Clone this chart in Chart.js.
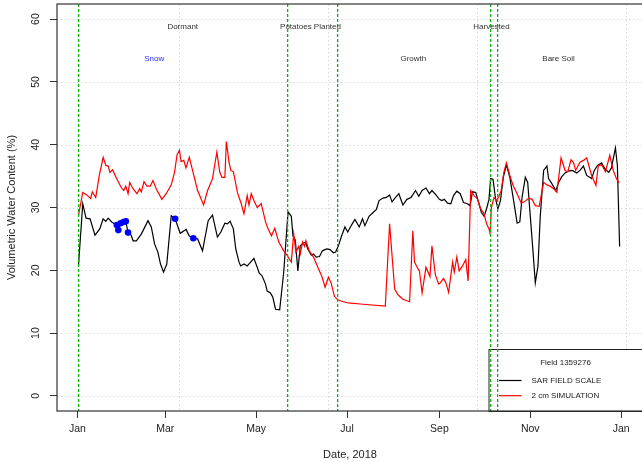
<!DOCTYPE html>
<html lang="en">
<head>
<meta charset="UTF-8">
<title>Field 1359276 - Volumetric Water Content</title>
<script src="https://cdn.jsdelivr.net/npm/chart.js@4"></script>
<style>
    body { margin: 0; background: #fff; overflow: hidden; }
    .wrap { width: 647px; height: 462px; }
</style>
</head>
<body>
<div class="wrap"><canvas id="vwcChart" width="647" height="462"></canvas></div>
<script>
// day of year 2018 (0 = Jan 1)
const sarDays = [0.7, 3.6, 5.8, 8.5, 11.8, 15, 17.3, 19, 20.7, 23, 25, 26.5, 27.5, 29, 31, 32.5, 34, 36, 37.4, 39.6,
    43, 47.4, 49.6, 51.8, 54, 55.8, 57.8, 60, 63, 65.6, 69, 73, 75, 77.8, 80.7, 84, 87.8, 90.7, 94, 96.3,
    99, 100.7, 102.5, 104.7, 106.3, 108.5, 109.6, 111.8, 114, 116.3, 118.5, 120.7, 122, 124, 126.3, 127.4, 129.6, 131.2, 133, 135.8,
    138.5, 141.4, 143.6, 144.7, 146.3, 148, 149.6, 151, 153, 154.7, 157, 158.5, 160.3, 162.5, 164.5, 167.4, 169.6, 171.8, 173.4, 175.2,
    177.4, 179.6, 181.5, 184, 186.3, 189.2, 191.4, 193, 195.8, 198.5, 200.7, 202.5, 205.2, 207.4, 209.6, 211.2, 213.6, 215.8, 218.5, 221.2,
    224, 227, 229.2, 231.4, 234, 236.3, 238, 240.7, 243, 244.7, 246.3, 248.5, 250.7, 252.5, 254.7, 257, 259.2, 261.8, 263.6, 265.2,
    267.4, 269, 271.2, 273, 274.7, 276.3, 277.4, 279, 280.7, 282.3, 284, 285.9, 288, 290.3, 292.5, 295.2, 297, 298.5, 300.7, 302.3,
    304, 305.9, 307.4, 309.2, 310.7, 313, 315.2, 316.3, 318.5, 321.2, 323, 325.2, 327.4, 329.7, 332.3, 335.2, 337.4, 339.7, 341.9, 345.2,
    347, 349.2, 351.9, 354, 356.7, 358.5, 361.2, 362.5, 364];
const sarValues = [20.7, 30.6, 28.3, 28.2, 25.6, 26.6, 28.2, 27.8, 28.3, 27.7, 27.4, 27.2, 26.4, 27.5, 27.7, 27.8, 26.0, 25.6, 24.7, 24.7,
    25.8, 27.9, 26.9, 24.2, 22.9, 21.0, 19.7, 21.0, 28.7, 28.2, 25.9, 26.5, 25.5, 25.1, 25.0, 23.1, 27.9, 28.8, 25.3, 26.1,
    27.5, 27.4, 27.8, 26.6, 23.4, 21.3, 20.7, 21.0, 20.7, 21.3, 21.9, 20.5, 19.6, 19.1, 17.8, 16.7, 16.4, 15.7, 13.8, 13.7,
    19.7, 29.3, 28.6, 25.5, 24.8, 19.9, 23.9, 24.2, 24.5, 23.4, 22.4, 22.6, 22.1, 22.2, 23.1, 23.4, 23.3, 22.8, 22.9, 23.9,
    25.5, 26.9, 26.1, 27.2, 28.1, 26.9, 28.2, 27.1, 28.6, 29.2, 29.7, 31.1, 31.5, 31.6, 32.0, 30.9, 31.6, 32.2, 30.4, 31.3,
    31.6, 32.7, 31.8, 32.7, 33.1, 32.2, 32.7, 32.0, 31.3, 31.1, 31.3, 30.7, 30.6, 31.9, 32.6, 32.2, 30.8, 30.6, 30.3, 32.5,
    32.4, 31.1, 29.2, 28.6, 29.8, 31.3, 34.6, 34.5, 31.4, 29.8, 31.1, 34.8, 36.8, 34.8, 31.6, 27.5, 27.7, 31.6, 34.8, 34.0,
    28.7, 22.9, 18.0, 20.7, 28.5, 35.9, 36.6, 34.6, 33.8, 32.7, 34.0, 34.9, 35.5, 35.8, 35.9, 35.5, 35.9, 36.6, 35.1, 34.6,
    35.9, 36.7, 37.1, 36.2, 35.6, 36.3, 39.5, 36.7, 23.8];

const simDays = [0.7, 3.6, 6.3, 8.9, 10, 12.3, 14.7, 17.3, 19.1, 20.7, 21.8, 23.6, 26.3, 29.6, 31.1, 32.5, 34, 35.1, 37.3, 40,
    41.8, 42.9, 44.7, 46.7, 48.9, 50.7, 52.9, 56.7, 59.6, 63, 65.2, 66.9, 68.5, 69.6, 71.4, 72.9, 75.1, 77.3, 80.7, 84.7,
    87.4, 90.7, 93.6, 95.6, 97, 99, 100, 101.8, 103, 104.7, 107.4, 110, 111.8, 114, 115.2, 116.7, 118.5, 120.7, 123.4, 126.3,
    128, 130.3, 132.5, 135.2, 138.5, 140.7, 143.6, 145.2, 146.7, 148.5, 149.6, 151.2, 152.5, 153.4, 155.6, 158.5, 161.4, 164, 166.3, 168.5,
    170.3, 172.5, 174.7, 178.5, 181.8, 191.8, 206.7, 209.6, 211.4, 213, 215.2, 218.5, 223, 225.2, 226.3, 228.5, 229.6, 231.4, 234, 236.7,
    238, 240.3, 242.5, 243.6, 245.8, 247.4, 249.2, 251.9, 253, 254.7, 256.3, 258.5, 260.7, 262.3, 264, 266.3, 268.5, 270.7, 273, 274.7,
    276.3, 277, 277.9, 279.7, 281.5, 283, 284.5, 286.3, 288, 290.3, 292.5, 295.2, 297.9, 300.1, 303, 305.2, 307.4, 310, 313, 315.2,
    317.4, 319.7, 321.9, 324.7, 327.4, 329.2, 331.4, 333, 334.5, 337.4, 339.7, 341.9, 345.2, 348.1, 349.7, 351.9, 354.5, 357.4, 359.7, 361.9,
    363.7];
const simValues = [28.7, 32.4, 32.0, 31.4, 32.5, 31.6, 35.1, 38.0, 36.7, 36.6, 35.6, 36.0, 34.6, 33.1, 32.7, 33.4, 32.2, 34.0, 33.0, 32.2,
    33.0, 32.5, 34.1, 33.4, 33.4, 34.3, 33.0, 31.3, 32.2, 33.6, 35.6, 38.4, 39.1, 37.3, 37.5, 36.3, 38.0, 35.9, 32.7, 30.4,
    32.7, 34.6, 38.8, 35.6, 34.8, 34.8, 40.5, 37.2, 35.9, 35.7, 32.4, 30.6, 29.0, 31.9, 30.4, 32.2, 31.1, 30.0, 30.6, 27.7,
    26.6, 25.5, 26.7, 24.5, 23.1, 22.4, 21.3, 25.8, 22.9, 23.8, 22.6, 24.5, 23.8, 24.7, 23.1, 22.1, 20.5, 19.1, 17.3, 18.9,
    18.0, 15.9, 15.3, 15.0, 14.8, 14.6, 14.3, 27.4, 21.8, 17.0, 16.1, 15.4, 15.0, 26.3, 21.3, 20.3, 19.9, 16.4, 20.5, 19.0,
    23.9, 19.3, 17.8, 18.0, 18.7, 18.0, 16.5, 21.3, 19.7, 22.1, 19.9, 20.7, 21.7, 18.3, 32.7, 31.9, 31.4, 29.8, 29.0, 27.4,
    26.6, 25.9, 30.0, 31.6, 31.1, 31.8, 32.7, 35.6, 37.1, 35.1, 33.5, 32.2, 30.7, 30.9, 31.5, 31.3, 30.3, 30.2, 34.0, 33.6,
    33.4, 33.0, 32.4, 37.9, 35.9, 35.7, 37.6, 37.2, 35.9, 37.2, 37.5, 37.9, 35.1, 33.5, 36.7, 36.8, 35.7, 38.3, 35.9, 34.6,
    33.9];

const snowDays = [26.5, 27.5, 29, 31, 32.5, 34, 65.6, 77.8];
const snowValues = [27.2, 26.4, 27.5, 27.7, 27.8, 26.0, 28.2, 25.1];

// crop stage boundaries (green dotted lines) and labels
const stageDays = [0.7, 140.7, 174, 277, 282];
const noteLabels = ['Dormant', 'Snow', 'Potatoes Planted', 'Growth', 'Harvested', 'Bare Soil'];
const noteDays = [70.7, 51.6, 156.5, 225.5, 278, 323];
const noteValues = [58.7, 53.7, 58.7, 53.7, 58.7, 53.7];
const noteColors = ['#333', '#2b2bff', '#333', '#333', '#333', '#333'];

const monthDays = [0, 59, 120, 181, 243, 304, 365];
const monthLabels = ['Jan', 'Mar', 'May', 'Jul', 'Sep', 'Nov', 'Jan'];
const gridDays = [68, 168, 268, 368];
const yTicks = [0, 10, 20, 30, 40, 50, 60];

const FONT = '"Liberation Sans", Arial, Helvetica, sans-serif';
Chart.defaults.font.family = FONT;

const pairs = (xs, ys) => xs.map((x, i) => ({ x, y: ys[i] }));

const decorations = {
    id: 'decorations',
    beforeDatasetsDraw(chart) {
        const { ctx, chartArea: a, scales: { x, y } } = chart;
        ctx.save();
        ctx.strokeStyle = '#d8d8d8';
        ctx.lineWidth = 1;
        ctx.setLineDash([1.5, 2.5]);
        yTicks.forEach(v => {
            const py = Math.round(y.getPixelForValue(v)) + 0.5;
            ctx.beginPath(); ctx.moveTo(a.left, py); ctx.lineTo(a.right, py); ctx.stroke();
        });
        gridDays.forEach(d => {
            const px = Math.round(x.getPixelForValue(d)) + 0.5;
            ctx.beginPath(); ctx.moveTo(px, a.top); ctx.lineTo(px, a.bottom); ctx.stroke();
        });
        ctx.restore();
    },
    afterDatasetsDraw(chart) {
        const { ctx, chartArea: a, scales: { x, y } } = chart;
        ctx.save();

        // legend (bottom right, white box)
        const lx = a.right - 154.5, ly = a.bottom - 62;
        ctx.fillStyle = '#fff';
        ctx.fillRect(lx, ly, a.right - lx, a.bottom - ly);
        ctx.strokeStyle = '#222';
        ctx.lineWidth = 1;
        ctx.strokeRect(lx + 0.5, ly + 0.5, a.right - lx, a.bottom - ly);
        ctx.font = `8px ${FONT}`;
        ctx.fillStyle = '#222';
        ctx.textAlign = 'center';
        ctx.textBaseline = 'middle';
        ctx.fillText('Field 1359276', lx + 77, ly + 13.5);
        ctx.textAlign = 'left';
        [['SAR FIELD SCALE', '#000', 31.5], ['2 cm SIMULATION', '#ff0000', 46.7]].forEach(([label, color, dy]) => {
            ctx.strokeStyle = color;
            ctx.lineWidth = 1.2;
            ctx.beginPath(); ctx.moveTo(lx + 10.5, ly + dy); ctx.lineTo(lx + 33, ly + dy); ctx.stroke();
            ctx.fillText(label, lx + 43, ly + dy);
        });

        // stage lines
        stageDays.forEach(d => {
            const px = Math.round(x.getPixelForValue(d));
            ctx.fillStyle = '#10b010';
            for (let py = a.top; py < a.bottom; py += 5) {
                ctx.fillRect(px, py, 1.3, Math.min(3, a.bottom - py));
            }
        });

        // stage notes
        ctx.font = `8px ${FONT}`;
        ctx.textAlign = 'center';
        noteLabels.forEach((t, i) => {
            ctx.fillStyle = noteColors[i];
            ctx.fillText(t, x.getPixelForValue(noteDays[i]), y.getPixelForValue(noteValues[i]));
        });

        // plot box
        ctx.strokeStyle = '#333';
        ctx.lineWidth = 1.2;
        ctx.strokeRect(a.left, a.top, a.right - a.left, a.bottom - a.top);

        // y tick labels, parallel to the axis
        ctx.fillStyle = '#222';
        ctx.font = `10.5px ${FONT}`;
        yTicks.forEach(v => {
            ctx.save();
            ctx.translate(36, y.getPixelForValue(v));
            ctx.rotate(-Math.PI / 2);
            ctx.fillText(String(v), 0, 0);
            ctx.restore();
        });
        ctx.restore();
    }
};

new Chart(document.getElementById('vwcChart'), {
    type: 'line',
    data: {
        datasets: [
            {
                label: 'Snow',
                data: pairs(snowDays, snowValues),
                showLine: false,
                pointRadius: 3.3,
                pointBackgroundColor: '#0000ff',
                pointBorderWidth: 0,
                order: 0
            },
            {
                label: '2 cm SIMULATION',
                data: pairs(simDays, simValues),
                borderColor: '#ff0000',
                borderWidth: 1.2,
                pointRadius: 0,
                tension: 0,
                order: 1
            },
            {
                label: 'SAR FIELD SCALE',
                data: pairs(sarDays, sarValues),
                borderColor: '#000',
                borderWidth: 1.2,
                pointRadius: 0,
                tension: 0,
                order: 2
            }
        ]
    },
    options: {
        responsive: false,
        animation: false,
        devicePixelRatio: 1,
        layout: { padding: { top: 4, left: 0, right: 0, bottom: 0 } },
        plugins: { legend: { display: false }, tooltip: { enabled: false } },
        scales: {
            x: {
                type: 'linear',
                min: -13.7,
                max: 379.7,
                afterBuildTicks: s => { s.ticks = monthDays.map(v => ({ value: v })); },
                afterFit: s => { s.height = 51; },
                ticks: {
                    autoSkip: false, maxRotation: 0, padding: 5,
                    color: '#222', font: { size: 10.5 },
                    callback: (v, i) => monthLabels[i]
                },
                grid: { drawOnChartArea: false, drawTicks: true, tickLength: 7, tickColor: '#333', tickWidth: 1 },
                border: { display: false },
                title: { display: true, text: 'Date, 2018', color: '#222', font: { size: 11 }, padding: { top: 0, bottom: 0 } }
            },
            y: {
                min: -2.4,
                max: 62.4,
                afterBuildTicks: s => { s.ticks = yTicks.map(v => ({ value: v })); },
                afterFit: s => { s.width = 57; },
                ticks: { display: false },
                grid: { drawOnChartArea: false, drawTicks: true, tickLength: 7, tickColor: '#333', tickWidth: 1 },
                border: { display: false },
                title: { display: true, text: 'Volumetric Water Content (%)', color: '#222', font: { size: 11 }, padding: { top: 5, bottom: 0 } }
            }
        }
    },
    plugins: [decorations]
});
</script>
</body>
</html>
